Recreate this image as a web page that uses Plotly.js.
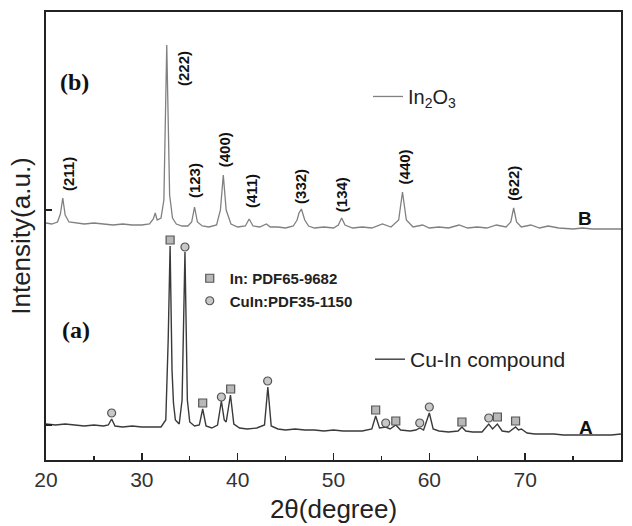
<!DOCTYPE html>
<html>
<head>
<meta charset="utf-8">
<script src="https://cdn.plot.ly/plotly-3.0.1.min.js"></script>
<style>html,body{margin:0;padding:0;background:#fff;}#chart{width:632px;height:526px;}</style>
</head>
<body>
<div id="chart"></div>
<script>
// Pattern B: In2O3 (2theta in degrees, intensity in arbitrary units)
var twoThetaB = [20.0,20.6,21.2,21.5,21.75,22.0,22.4,23.0,24.0,25.0,26.0,27.0,28.0,29.0,30.0,30.8,31.2,31.4,31.6,32.0,32.3,32.6,32.9,33.2,33.6,34.2,34.8,35.2,35.5,35.8,36.3,37.0,37.8,38.2,38.5,38.8,39.3,40.0,40.8,41.2,41.6,42.3,43.0,43.4,44.2,45.0,45.8,46.2,46.4,46.65,47.0,47.4,48.0,49.0,50.0,50.5,50.85,51.2,52.0,53.0,54.0,55.1,56.0,56.8,57.2,57.6,58.3,59.3,60.0,61.0,62.0,63.1,64.0,65.0,66.0,67.0,68.0,68.5,68.8,69.1,69.6,70.6,71.5,72.4,73.5,75.0,76.0,77.0,78.0,79.0,80.0];
var intensityB = [237,236,238,246,262,245,238,237,236,237,236,235,236,235,235,236,241,247,240,242,260,415,265,242,236,234,234,238,253,238,234,233,235,250,285,250,236,233,234,241,234,233,236,233,233,232,234,240,247,251,240,234,232,233,232,235,242,235,232,233,232,236,233,240,268,240,233,235,232,233,232,235,232,233,232,235,233,238,252,238,233,235,232,234,232,231,232,231,231,231,231];

// Pattern A: Cu-In compound
var twoThetaA = [20.0,21.0,22.0,23.0,24.0,25.0,26.0,26.5,26.85,27.2,28.0,29.0,30.0,31.0,32.0,32.5,32.75,32.95,33.15,33.3,33.5,33.9,34.2,34.5,34.75,35.0,35.5,36.0,36.35,36.7,37.3,37.9,38.3,38.6,38.8,39.25,39.6,40.2,41.0,42.0,42.8,43.15,43.5,44.2,45.0,46.0,47.0,48.0,49.0,50.0,51.0,52.0,53.0,54.0,54.4,54.8,55.45,55.9,56.5,57.0,58.0,58.6,59.0,59.4,60.0,60.4,61.0,62.0,63.0,63.4,63.8,64.5,65.5,66.2,66.6,67.1,67.6,68.3,69.0,69.3,69.6,70.2,71.0,72.0,73.0,74.0,75.0,76.0,77.0,78.0,79.0,80.0];
var intensityA = [36,35,36,35,34,35,34,35,41,34,33,34,33,33,33,40,120,214,90,57,40,36,60,208,60,38,34,35,51,34,32,35,59,40,38,65,36,32,31,32,35,73,34,31,30,31,30,30,29,30,29,29,29,31,44,32,33,31,35,30,29,30,32,30,47,31,29,28,29,33,29,28,28,36,31,36,29,28,33,30,31,27,26,26,26,25,25,25,25,25,25,26];

// Phase markers on pattern A
var inPeakX = [32.95,36.35,39.27,54.4,56.5,63.4,67.1,69.0];
var inPeakY = [220,57,71,50,39,38,43,39];
var cuInPeakX = [26.85,34.5,38.3,43.13,55.45,59.0,60.0,66.2];
var cuInPeakY = [47,213,63,79,37,37,53,42];

// Miller index labels for In2O3 (text, label x in degrees, label y)
var hklText = ['(211)','(222)','(123)','(400)','(411)','(332)','(134)','(440)','(622)'];
var hklX = [22.3,34.3,35.45,38.6,41.4,46.5,50.8,57.4,68.7];
var hklY = [286,391,279,310,269,274,265,293,277];

var sans = 'Liberation Sans, Arial, sans-serif';
var serif = 'Liberation Serif, Times New Roman, serif';

var traces = [
  {x: twoThetaB, y: intensityB, type: 'scatter', mode: 'lines', name: 'In<sub>2</sub>O<sub>3</sub>',
   line: {color: '#808080', width: 1.3}, legend: 'legend'},
  {x: twoThetaA, y: intensityA, type: 'scatter', mode: 'lines', name: 'Cu-In compound',
   line: {color: '#3a3a3a', width: 1.4}, legend: 'legend2'},
  {x: inPeakX, y: inPeakY, type: 'scatter', mode: 'markers', name: 'In: PDF65-9682',
   marker: {symbol: 'square', size: 8, color: '#b8b8b8', line: {color: '#555', width: 1.2}}, legend: 'legend3'},
  {x: cuInPeakX, y: cuInPeakY, type: 'scatter', mode: 'markers', name: 'CuIn:PDF35-1150',
   marker: {symbol: 'circle', size: 8, color: '#c8c8c8', line: {color: '#555', width: 1.2}}, legend: 'legend3'}
];

var annotations = [];
for (var i = 0; i < hklText.length; i++) {
  annotations.push({x: hklX[i], y: hklY[i], xref: 'x', yref: 'y', text: hklText[i], showarrow: false,
    textangle: -90, font: {family: sans, size: 15, color: '#111', weight: 'bold'}});
}
annotations.push({x: 23.0, y: 378, xref: 'x', yref: 'y', text: '(b)', showarrow: false,
  font: {family: serif, size: 24, color: '#111', weight: 'bold'}});
annotations.push({x: 23.1, y: 130, xref: 'x', yref: 'y', text: '(a)', showarrow: false,
  font: {family: serif, size: 24, color: '#111', weight: 'bold'}});
annotations.push({x: 76.25, y: 242, xref: 'x', yref: 'y', text: 'B', showarrow: false,
  font: {family: sans, size: 19, color: '#111', weight: 'bold'}});
annotations.push({x: 76.35, y: 33, xref: 'x', yref: 'y', text: 'A', showarrow: false,
  font: {family: sans, size: 19, color: '#111', weight: 'bold'}});

var layout = {
  width: 632, height: 526,
  margin: {l: 46, r: 11, t: 12, b: 66},
  paper_bgcolor: '#fff', plot_bgcolor: '#fff',
  font: {family: sans, color: '#222'},
  xaxis: {range: [20, 80], tickvals: [20,30,40,50,60,70,80], ticks: 'inside', ticklen: 7, tickwidth: 1.5,
    tickcolor: '#222', showline: true, linecolor: '#222', linewidth: 2, mirror: true, showgrid: false, zeroline: false,
    minor: {tickvals: [25,35,45,55,65,75], ticks: 'inside', ticklen: 4, tickwidth: 1.2, tickcolor: '#222', showgrid: false},
    tickfont: {family: sans, size: 21, color: '#333'},
    title: {text: '2θ(degree)', font: {family: sans, size: 26, color: '#222'}, standoff: 10}},
  yaxis: {range: [0, 448], tickvals: [35, 250], ticks: 'inside', ticklen: 6, tickwidth: 1.2, tickcolor: '#222',
    showticklabels: false, showline: true, linecolor: '#222', linewidth: 2, mirror: true, showgrid: false, zeroline: false,
    title: {text: 'Intensity(a.u.)', font: {family: sans, size: 26, color: '#222'}, standoff: 6}},
  showlegend: true,
  legend: {x: 0.56, y: 0.855, xanchor: 'left', yanchor: 'top', bgcolor: 'rgba(0,0,0,0)',
    font: {family: sans, size: 20, color: '#222'}},
  legend2: {x: 0.5635, y: 0.27, xanchor: 'left', yanchor: 'top', bgcolor: 'rgba(0,0,0,0)',
    font: {family: sans, size: 21, color: '#222'}},
  legend3: {x: 0.25, y: 0.442, xanchor: 'left', yanchor: 'top', bgcolor: 'rgba(0,0,0,0)', tracegroupgap: 0,
    font: {family: sans, size: 15, color: '#222', weight: 'bold'}},
  annotations: annotations
};

Plotly.newPlot('chart', traces, layout, {displayModeBar: false, staticPlot: true});
</script>
</body>
</html>
